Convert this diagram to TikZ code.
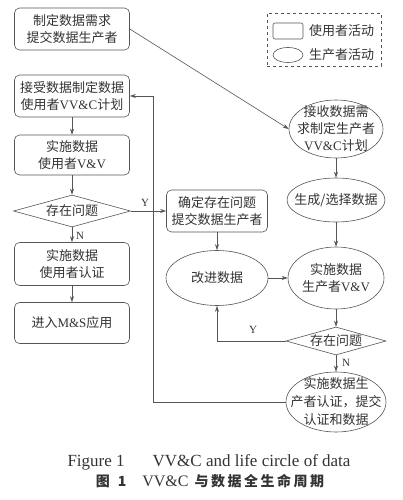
\documentclass[tikz,border=0pt]{standalone}
\usepackage{fontspec}
\setmainfont{Liberation Serif}
\newfontfamily\cjk{Noto Sans CJK SC}
\newfontfamily\cjkcap{Noto Sans CJK SC}[LetterSpace=18]
\usetikzlibrary{shapes.geometric,arrows.meta}
\newcommand\zh[1]{{\cjk #1}}
\definecolor{lc}{HTML}{555555}
\definecolor{tc}{HTML}{333333}
\begin{document}
\begin{tikzpicture}[x=1pt,y=-1pt,
  line/.style={draw=lc, line width=0.6pt},
  arr/.style={line, -{Stealth[length=6pt,width=4pt]}},
  txt/.style={text=tc, font=\fontsize{13}{17}\selectfont, align=center},
  ubox/.style={txt, draw=lc, line width=0.6pt, rounded corners=5pt, minimum width=115pt, inner sep=0pt},
  pell/.style={txt, ellipse, draw=lc, line width=0.6pt, inner sep=-25pt},
  dia/.style={txt, diamond, draw=lc, line width=0.6pt, inner sep=0pt, aspect=3.6},
  lab/.style={text=tc, font=\fontsize{11}{12}\selectfont, inner sep=1pt}
]
\path[use as bounding box, fill=white] (0,0) rectangle (403,500);

% legend
\node[draw=lc, dashed, line width=0.6pt, minimum width=114pt, minimum height=53pt, inner sep=0pt] (leg) at (324,39.5) {};
\node[draw=lc, line width=0.6pt, rounded corners=2pt, minimum width=30pt, minimum height=16pt, inner sep=0pt] (lr) at (288,31) {};
\node[draw=lc, line width=0.6pt, ellipse, minimum width=30pt, minimum height=15pt, inner sep=0pt] (le) at (288,55) {};
\node[txt, anchor=west, inner sep=1pt] (lt1) at (308,31) {\zh{使用者活动}};
\node[txt, anchor=west, inner sep=1pt] (lt2) at (308,55) {\zh{生产者活动}};

% left column
\node[ubox, minimum height=42pt] (b1) at (72,29) {\zh{制定数据需求}\\\zh{提交数据生产者}};
\node[ubox, minimum height=42pt] (b2) at (72,96) {\zh{接受数据制定数据}\\\zh{使用者}VV\&C\zh{计划}};
\node[ubox, minimum height=40pt] (b3) at (72,155) {\zh{实施数据}\\\zh{使用者}V\&V};
\node[dia, minimum width=117pt, minimum height=32pt] (d1) at (72,211) {\zh{存在问题}};
\node[ubox, minimum height=43pt] (b4) at (72,264) {\zh{实施数据}\\\zh{使用者认证}};
\node[ubox, minimum height=41pt] (b5) at (72,323) {\zh{进入}M\&S\zh{应用}};

% middle
\node[ubox, minimum width=101pt, minimum height=42pt] (b6) at (217,211) {\zh{确定存在问题}\\\zh{提交数据生产者}};
\node[pell, minimum width=102pt, minimum height=55pt] (e4) at (217,278) {\zh{改进数据}};

% right column
\node[pell, minimum width=94pt, minimum height=58pt] (e1) at (336,129) {\zh{接收数据需}\\\zh{求制定生产者}\\VV\&C\zh{计划}};
\node[pell, minimum width=98pt, minimum height=44pt] (e2) at (336,200) {\zh{生成/选择数据}};
\node[pell, minimum width=96pt, minimum height=62pt] (e3) at (336,278) {\zh{实施数据}\\\zh{生产者}V\&V};
\node[dia, minimum width=100pt, minimum height=28pt] (d2) at (336,341) {\zh{存在问题}};
\node[pell, minimum width=100pt, minimum height=60pt, font=\fontsize{13}{18}\selectfont] (e5) at (336,402) {\zh{实施数据生}\\\zh{产者认证，提交}\\\zh{认证和数据}};

% connectors
\draw[arr] (b1.east) -- (e1.west);
\draw[arr] (b2.south) -- (b3.north);
\draw[arr] (b3.south) -- (d1.north);
\draw[arr] (d1.south) -- (b4.north);
\draw[arr] (b4.south) -- (b5.north);
\draw[arr] (d1.east) -- (b6.west);
\draw[arr] (b6.south) -- (e4.north);
\draw[arr] (e4.east) -- (e3.west);
\draw[arr] (e1.south) -- (e2.north);
\draw[arr] (e2.south) -- (e3.north);
\draw[arr] (e3.south) -- (d2.north);
\draw[arr] (d2.south) -- (e5.north);
\draw[arr] (d2.west) -| (e4.south);
\coordinate (lp) at (153,402);
\draw[arr] (e5.west) -- (lp) |- (b2.east);

% labels
\node[lab] (ly1) at (145,203) {Y};
\node[lab] (ln1) at (80,236) {N};
\node[lab] (ly2) at (253,330) {Y};
\node[lab] (ln2) at (346,363) {N};

% captions
\node[text=tc, font=\fontsize{17}{19}\selectfont, inner sep=0pt] (cap1) at (209,462) {Figure 1\hspace{28pt}VV\&C and life circle of data};
\node[text=tc, font=\fontsize{14}{16}\selectfont, inner sep=0pt] (cap2) at (210,481) {{\cjkcap\bfseries 图\hspace{8pt}1}\hspace{16pt}{\fontsize{16}{18}\selectfont VV\&C}\hspace{6pt}{\cjkcap\bfseries 与数据全生命周期}};
\end{tikzpicture}
\end{document}
